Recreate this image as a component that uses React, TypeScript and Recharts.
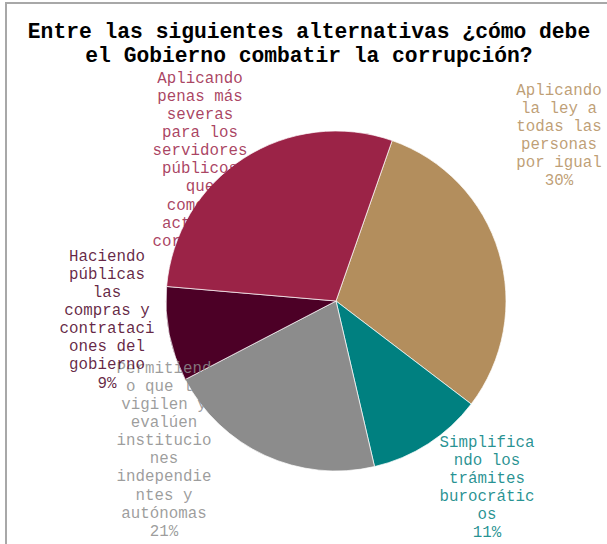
import React from "react";
import { PieChart, Pie, Cell } from "recharts";

const categories = [
  "Aplicando la ley a todas las personas por igual",
  "Simplificando los trámites burocráticos",
  "Permitiendo que lo vigilen y evalúen instituciones independientes y autónomas",
  "Haciendo públicas las compras y contrataciones del gobierno",
  "Aplicando penas más severas para los servidores públicos que cometan actos de corrupción",
];
const values = [30, 11, 21, 9, 29];
const labelLines = [
  ["Aplicando", "la ley a", "todas las", "personas", "por igual"],
  ["Simplifica", "ndo los", "trámites", "burocrátic", "os"],
  ["Permitiend", "o que lo", "vigilen y", "evalúen", "institucio", "nes", "independie", "ntes y", "autónomas"],
  ["Haciendo", "públicas", "las", "compras y", "contrataci", "ones del", "gobierno"],
  ["Aplicando", "penas más", "severas", "para los", "servidores", "públicos", "que", "cometan", "actos de", "corrupción"],
];
const titleLines = [
  "Entre las siguientes alternativas ¿cómo debe",
  "el Gobierno combatir la corrupción?",
];

const colors = ["#B38E5D", "#008080", "#8C8C8C", "#4C0026", "#9B2347"];
// label block placement relative to pie centre: [dx, dy of first line]
const labelOffsets = [
  [223, -212],
  [151, 140],
  [-172, 66],
  [-229, -46],
  [-136, -224],
];

const FONT = "'Liberation Mono', 'Courier New', monospace";
const data = categories.map((name, i) => ({ name, value: values[i] }));

const renderLabel = (props: any) => {
  const { cx, cy, index } = props;
  const [dx, dy] = labelOffsets[index];
  const lines = [...labelLines[index], `${values[index]}%`];
  const x = cx + dx;
  const y0 = cy + dy + 5.5;
  return (
    <text
      key={`lbl-${index}`}
      x={x}
      y={y0}
      textAnchor="middle"
      fill={colors[index]}
      fillOpacity={0.85}
      fontFamily={FONT}
      fontSize={15.8}
    >
      {lines.map((l, j) => (
        <tspan key={j} x={x} y={y0 + j * 18.15}>
          {l}
        </tspan>
      ))}
    </text>
  );
};

export default function App() {
  return (
    <div
      style={{
        position: "absolute",
        left: 0,
        top: 0,
        width: 607,
        height: 544,
        overflow: "hidden",
        background: "#fff",
      }}
    >
      <div
        style={{
          position: "absolute",
          left: 5,
          top: 2,
          width: 700,
          height: 700,
          border: "2px solid #a8a8a8",
          boxSizing: "border-box",
        }}
      />
      <div style={{ position: "absolute", left: 0, top: 0 }}>
        <PieChart width={607} height={544} margin={{ top: 0, right: 0, bottom: 0, left: 0 }}>
          <Pie
            data={data}
            dataKey="value"
            cx={336}
            cy={301}
            outerRadius={170}
            startAngle={70.7}
            endAngle={-289.3}
            fill="none"
            stroke="none"
            label={renderLabel}
            labelLine={false}
            isAnimationActive={false}
          >
            {data.map((_, i) => (
              <Cell key={i} fill="none" stroke="none" />
            ))}
          </Pie>
          <Pie
            data={data}
            dataKey="value"
            cx={336}
            cy={301}
            outerRadius={170}
            startAngle={70.7}
            endAngle={-289.3}
            stroke="#ffffff"
            strokeWidth={0.7}
            isAnimationActive={false}
          >
            {data.map((_, i) => (
              <Cell key={i} fill={colors[i]} />
            ))}
          </Pie>
        </PieChart>
      </div>
      <div
        style={{
          position: "absolute",
          left: 0,
          top: 20,
          width: 618,
          textAlign: "center",
          fontFamily: FONT,
          fontWeight: "bold",
          fontSize: 21.3,
          lineHeight: "24px",
          color: "#000",
          whiteSpace: "nowrap",
        }}
      >
        {titleLines.map((t, i) => (
          <div key={i}>{t}</div>
        ))}
      </div>
    </div>
  );
}
